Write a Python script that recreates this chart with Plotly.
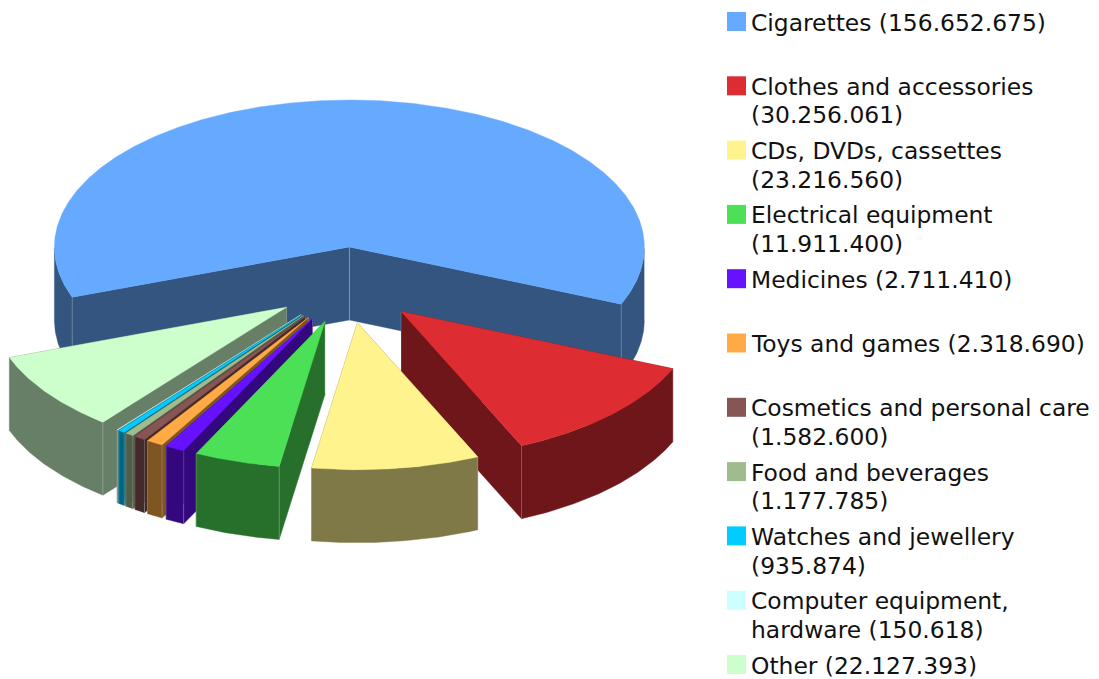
import math
import plotly.graph_objects as go

categories = ["Cigarettes", "Clothes and accessories", "CDs, DVDs, cassettes", "Electrical equipment",
              "Medicines", "Toys and games", "Cosmetics and personal care", "Food and beverages",
              "Watches and jewellery", "Computer equipment, hardware", "Other"]
values = [156652675, 30256061, 23216560, 11911400, 2711410, 2318690, 1582600, 1177785, 935874, 150618, 22127393]
colors = ["#66AAFF", "#DD2D32", "#FFF38E", "#4CE056", "#6611FF", "#FFAA44", "#885555", "#A0BC8E", "#00CCFF", "#CCFFFF", "#CCFFCC"]
legend_labels = ["Cigarettes (156.652.675)", "Clothes and accessories<br>(30.256.061)",
                 "CDs, DVDs, cassettes<br>(23.216.560)", "Electrical equipment<br>(11.911.400)",
                 "Medicines (2.711.410)", "Toys and games (2.318.690)",
                 "Cosmetics and personal care<br>(1.582.600)", "Food and beverages<br>(1.177.785)",
                 "Watches and jewellery<br>(935.874)", "Computer equipment,<br>hardware (150.618)",
                 "Other (22.127.393)"]

# projection of the pie onto the page
CX, CY = 347.5, 285.0
RX, RY = 295.0, 147.0
DEPTH = 73.0
EX, EY = 75.0, 38.0
START = 200.0


def dark(hexcol, f=0.5):
    r, g, b = (int(hexcol[i:i + 2], 16) for i in (1, 3, 5))
    return f"rgb({int(r * f)},{int(g * f)},{int(b * f)})"


fig = go.Figure()


def poly(xs, ys, color):
    fig.add_trace(go.Scatter(x=xs, y=ys, mode="lines", fill="toself", fillcolor=color,
                             line=dict(width=0.4, color=color), hoverinfo="skip", showlegend=False))


def edge(x, y0, y1):
    fig.add_trace(go.Scatter(x=[x, x], y=[y0, y1], mode="lines", line=dict(width=1, color="rgba(255,255,255,0.2)"),
                             hoverinfo="skip", showlegend=False))


def arc(ax, ay, a0, a1, n):
    return [(ax + RX * math.cos(math.radians(a0 + (a1 - a0) * i / n)),
             ay - RY * math.sin(math.radians(a0 + (a1 - a0) * i / n))) for i in range(n + 1)]


def draw_slice(a0, a1, col):
    mid = math.radians((a0 + a1) / 2)
    ax = CX + EX * math.cos(mid)
    ay = CY - EY * math.sin(mid)
    wall = dark(col)
    pts = arc(ax, ay, a0, a1, max(2, int(abs(a1 - a0) * 2)))
    # side walls
    for p in (pts[0], pts[-1]):
        poly([ax, p[0], p[0], ax], [ay, p[1], p[1] + DEPTH, ay + DEPTH], wall)
    # outer wall: only the front half of the rim faces the viewer
    run = []
    runs = []
    for p in pts:
        if p[1] >= ay - 0.01:
            run.append(p)
        elif run:
            runs.append(run)
            run = []
    if run:
        runs.append(run)
    for r in runs:
        if len(r) > 1:
            poly([p[0] for p in r] + [p[0] for p in reversed(r)],
                 [p[1] for p in r] + [p[1] + DEPTH for p in reversed(r)], wall)
    edge(ax, ay, ay + DEPTH)
    edge(pts[0][0], pts[0][1], pts[0][1] + DEPTH)
    edge(pts[-1][0], pts[-1][1], pts[-1][1] + DEPTH)
    # top face
    poly([ax] + [p[0] for p in pts] + [ax], [ay] + [p[1] for p in pts] + [ay], col)


total = sum(values)
spans = []
a = START
for v in values:
    b = a - 360.0 * v / total
    spans.append((a, b))
    a = b

# back to front
order = [0, 1, 10, 9, 8, 7, 6, 5, 4, 3, 2]
for i in order:
    draw_slice(spans[i][0], spans[i][1], colors[i])

# legend
LEG_TOP, LEG_STEP = 21.5, 64.3
LINE_STEP = 28.6
leg_y = [LEG_TOP + LEG_STEP * i for i in range(len(categories))]
fig.add_trace(go.Scatter(x=[736.5] * len(categories), y=leg_y, mode="markers",
                         marker=dict(symbol="square", size=19, color=colors, line=dict(width=0)),
                         text=categories, hoverinfo="text", showlegend=False))
for y, lab in zip(leg_y, legend_labels):
    for k, line in enumerate(lab.split("<br>")):
        fig.add_annotation(x=750, y=y + 1 + k * LINE_STEP, text=line, xref="x", yref="y", xanchor="left",
                           yanchor="middle", align="left", showarrow=False, borderpad=0,
                           font=dict(family="DejaVu Sans", size=23.4, color="#111111"))

fig.update_layout(width=1099, height=679, margin=dict(l=0, r=0, t=0, b=0), paper_bgcolor="white",
                  plot_bgcolor="white", showlegend=False,
                  xaxis=dict(range=[0, 1099], visible=False, fixedrange=True),
                  yaxis=dict(range=[679, 0], visible=False, fixedrange=True))
fig.write_html("out.html", config={"displayModeBar": False},
               post_script="document.body.style.margin='0';document.documentElement.style.overflow='hidden';")
